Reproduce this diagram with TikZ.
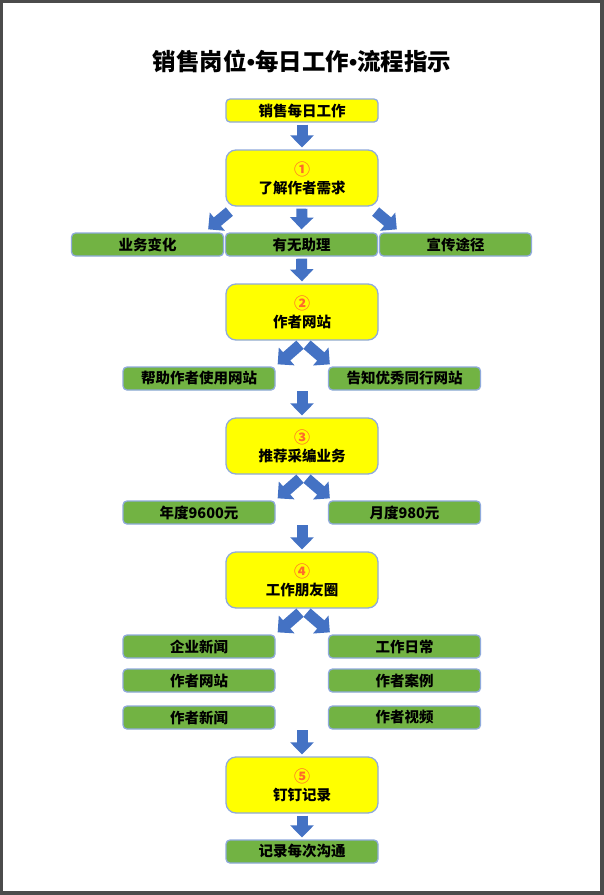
\documentclass[tikz,border=0pt]{standalone}
\usepackage{fontspec}
\setmainfont{Noto Sans CJK SC}
\newfontfamily\bulfont{Liberation Sans}
\usetikzlibrary{arrows.meta}
\definecolor{framec}{HTML}{4B4B4B}
\definecolor{ylw}{HTML}{FFFF00}
\definecolor{grn}{HTML}{72B343}
\definecolor{bord}{HTML}{8FAADC}
\definecolor{arrc}{HTML}{4472C4}
\definecolor{numc}{HTML}{FF6A2B}
\newcommand{\tbul}{{\bulfont\bfseries •}}
\begin{document}
\begin{tikzpicture}[x=1pt,y=-1pt,
  base/.style={draw=bord, line width=1.3pt, inner sep=0pt, text=black,
    font=\fontsize{14.5}{17}\selectfont\bfseries, align=center},
  ysm/.style={base, fill=ylw, rounded corners=4pt, minimum width=152pt, minimum height=23pt},
  ybig/.style={base, fill=ylw, rounded corners=10pt, minimum width=152pt, minimum height=56pt},
  gb/.style={base, fill=grn, rounded corners=4pt, minimum width=152pt, minimum height=23pt},
  barr/.style={draw=arrc, line width=11pt, -{Triangle[width=23pt,length=12pt]}},
]
% frame
\fill[framec] (0,0) rectangle (604,895);
\fill[white] (3,3) rectangle (600,891);
\useasboundingbox (0,0) rectangle (604,895);

% title
\node[font=\fontsize{23.5}{28}\selectfont\bfseries] (title) at (302,61) {销售岗位\tbul 每日工作\tbul 流程指示};

% main column
\node[ysm] (top) at (302,110.5) {销售每日工作};
\node[ybig] (s1) at (302,178) {{\fontsize{16}{17}\selectfont\textcolor{numc}{①}}\\[1pt]了解作者需求};
\node[gb] (g11) at (147.5,244.5) {业务变化};
\node[gb] (g12) at (301.5,244.5) {有无助理};
\node[gb] (g13) at (455.5,244.5) {宣传途径};

\node[ybig] (s2) at (302,312) {{\fontsize{16}{17}\selectfont\textcolor{numc}{②}}\\[1pt]作者网站};
\node[gb] (g21) at (199,378.5) {帮助作者使用网站};
\node[gb] (g22) at (404.5,378.5) {告知优秀同行网站};

\node[ybig] (s3) at (302,446) {{\fontsize{16}{17}\selectfont\textcolor{numc}{③}}\\[1pt]推荐采编业务};
\node[gb] (g31) at (199,512.5) {年度9600元};
\node[gb] (g32) at (404.5,512.5) {月度980元};

\node[ybig] (s4) at (302,580) {{\fontsize{16}{17}\selectfont\textcolor{numc}{④}}\\[1pt]工作朋友圈};
\node[gb] (g41) at (199,646.5) {企业新闻};
\node[gb] (g42) at (404.5,646.5) {工作日常};
\node[gb] (g43) at (199,680.5) {作者网站};
\node[gb] (g44) at (404.5,680.5) {作者案例};
\node[gb] (g45) at (199,717.5) {作者新闻};
\node[gb] (g46) at (404.5,717.5) {作者视频};

\node[ybig] (s5) at (302,785) {{\fontsize{16}{17}\selectfont\textcolor{numc}{⑤}}\\[1pt]钉钉记录};
\node[gb] (last) at (302,851.5) {记录每次沟通};

% vertical arrows
\draw[barr] ([yshift=-2pt]top.south) -- ([yshift=2pt]s1.north);
\draw[barr] ([yshift=-2pt]s1.south) -- ([yshift=3pt]g12.north);
\draw[barr] ([yshift=-2pt]g12.south) -- ([yshift=2pt]s2.north);
\coordinate (c3) at ([yshift=26pt]s3.north);
\draw[barr] (c3) -- ([yshift=2pt]s3.north);
\coordinate (c4) at ([yshift=26pt]s4.north);
\draw[barr] (c4) -- ([yshift=2pt]s4.north);
\coordinate (c5) at ([yshift=26pt]s5.north);
\draw[barr] (c5) -- ([yshift=2pt]s5.north);
\draw[barr] ([yshift=-2pt]s5.south) -- ([yshift=2pt]last.north);

% diagonal arrows
\draw[barr] ([shift={(4,5)}]s1.south west) -- ([shift={(-16,-3)}]g11.north east);
\draw[barr] ([shift={(-3,5)}]s1.south east) -- ([shift={(18,-3)}]g13.north west);

\draw[barr] ([shift={(-2,4)}]s2.south) -- ([shift={(2,-2)}]g21.north east);
\draw[barr] ([shift={(5,4)}]s2.south) -- ([shift={(2,-2)}]g22.north west);

\draw[barr] ([shift={(-2,4)}]s3.south) -- ([shift={(2,-2)}]g31.north east);
\draw[barr] ([shift={(5,4)}]s3.south) -- ([shift={(2,-2)}]g32.north west);

\draw[barr] ([shift={(-2,4)}]s4.south) -- ([shift={(2,-2)}]g41.north east);
\draw[barr] ([shift={(5,4)}]s4.south) -- ([shift={(2,-2)}]g42.north west);
\end{tikzpicture}
\end{document}
